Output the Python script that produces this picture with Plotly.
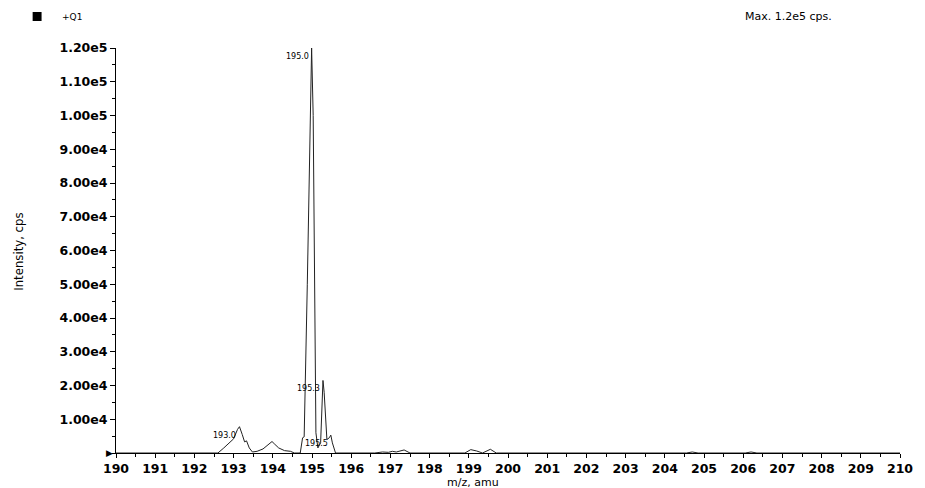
import plotly.graph_objects as go

# ---- data ----
mz = [190.0, 192.6, 192.75, 192.9, 193.0, 193.1, 193.15, 193.22, 193.28, 193.33, 193.4, 193.48,
      193.6, 193.75, 193.9, 193.98, 194.05, 194.15, 194.3, 194.45, 194.55,
      194.70, 194.76, 194.80, 194.88, 194.95, 194.99, 195.03, 195.07, 195.10, 195.15,
      195.22, 195.28, 195.31, 195.38, 195.44, 195.48, 195.52, 195.60,
      196.6, 196.8, 196.95, 197.05, 197.15, 197.35, 197.5,
      198.9, 199.05, 199.2, 199.35, 199.55, 199.7,
      204.55, 204.7, 204.85, 206.05, 206.2, 206.35, 210.0]
intensity = [0, 0, 1500, 3300, 4200, 7000, 7800, 5500, 3300, 3600, 1500, 300,
             500, 1200, 2800, 3400, 2600, 1500, 700, 500, 0,
             0, 4500, 4800, 50000, 100000, 120000, 100000, 40000, 6000, 1500,
             3000, 21500, 18000, 4000, 4500, 5300, 3000, 0,
             0, 300, 200, 500, 300, 900, 0,
             0, 1000, 600, 0, 1100, 0,
             0, 300, 0, 0, 300, 0, 0]

peak_x = [194.99, 195.28, 195.48, 193.15]
peak_y = [120000, 21500, 5300, 7800]
peak_labels = ["195.0", "195.3", "195.5", "193.0"]

y_tickvals = [10000, 20000, 30000, 40000, 50000, 60000, 70000, 80000, 90000, 100000, 110000, 120000]
y_ticktext = ["1.00e4", "2.00e4", "3.00e4", "4.00e4", "5.00e4", "6.00e4",
              "7.00e4", "8.00e4", "9.00e4", "1.00e5", "1.10e5", "1.20e5"]
x_tickvals = list(range(190, 211))
x_ticktext = [str(v) for v in x_tickvals]

W, H = 925, 488
L, R, T, B = 116, 19, 48, 35
pw, ph = W - L - R, H - T - B

def px(x):
    return (x - L) / pw

def py(y):
    return (H - B - y) / ph

tick_font = dict(family="DejaVu Sans", size=12.5, color="black", weight="bold")

fig = go.Figure()
fig.add_trace(go.Scatter(x=mz, y=intensity, mode="lines",
                         line=dict(color="#222222", width=1), hoverinfo="skip",
                         showlegend=False))

fig.update_layout(
    width=W, height=H,
    margin=dict(l=L, r=R, t=T, b=B),
    paper_bgcolor="white", plot_bgcolor="white",
    xaxis=dict(range=[190, 210], tickvals=x_tickvals, ticktext=x_ticktext,
               showgrid=False, zeroline=False, showline=True, linecolor="black", linewidth=1,
               ticks="outside", ticklen=4, tickcolor="black", tickfont=tick_font,
               minor=dict(dtick=0.5, ticks="outside", ticklen=3, tickcolor="black")),
    yaxis=dict(range=[0, 120000], tickvals=y_tickvals, ticktext=y_ticktext,
               showgrid=False, zeroline=False, showline=True, linecolor="black", linewidth=1,
               ticks="outside", ticklen=5, tickcolor="black", tickfont=tick_font,
               minor=dict(dtick=5000, tick0=0, ticks="outside", ticklen=3, tickcolor="black")),
)

ann = []
for x, y, t in zip(peak_x, peak_y, peak_labels):
    ann.append(dict(x=x, y=y, xref="x", yref="y", text=t, showarrow=False,
                    xanchor="right", yanchor="top", xshift=-1, yshift=-2,
                    font=dict(family="DejaVu Sans", size=8, color="black")))
ann.append(dict(x=px(60), y=py(17), xref="paper", yref="paper", text="+Q1", showarrow=False,
                xanchor="left", yanchor="middle", font=dict(family="DejaVu Sans", size=9, color="black")))
ann.append(dict(x=px(748), y=py(17), xref="paper", yref="paper", text="Max. 1.2e5 cps.", showarrow=False,
                xanchor="left", yanchor="middle", font=dict(family="DejaVu Sans", size=11, color="black")))
ann.append(dict(x=px(476), y=py(483), xref="paper", yref="paper", text="m/z, amu", showarrow=False,
                xanchor="center", yanchor="middle", font=dict(family="DejaVu Sans", size=11, color="black")))
ann.append(dict(x=px(17), y=py(252), xref="paper", yref="paper", text="Intensity, cps", showarrow=False,
                textangle=-90, xanchor="center", yanchor="middle",
                font=dict(family="DejaVu Sans Condensed, Liberation Sans Narrow, Arial", size=13, color="black")))
ann.append(dict(x=190, y=0, xref="x", yref="y", text="▶", showarrow=False,
                xanchor="right", yanchor="middle", xshift=-1,
                font=dict(family="DejaVu Sans", size=9, color="black")))
fig.update_layout(annotations=ann)

fig.add_shape(type="rect", xref="paper", yref="paper",
              x0=px(32), x1=px(41), y0=py(21), y1=py(12),
              fillcolor="black", line=dict(color="black", width=0))

fig.write_html("out.html")
